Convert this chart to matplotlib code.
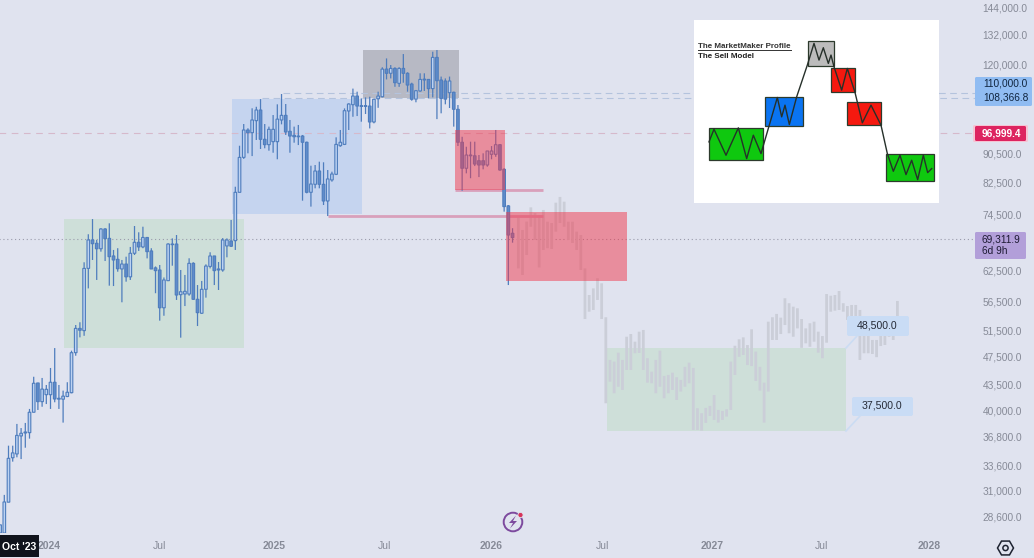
import numpy as np
import matplotlib
matplotlib.use("Agg")
import matplotlib.pyplot as plt
from matplotlib.patches import Rectangle, RegularPolygon, Circle, Polygon, FancyBboxPatch
from matplotlib.ticker import StrMethodFormatter, NullLocator

plt.rcParams['font.family'] = ['Liberation Sans', 'DejaVu Sans']

# weekly candles, one value per week
opens = [27100, 27100, 29890, 34420, 34840, 36890, 37240, 37280, 39780, 43660,
         41140, 42060, 42060, 43760, 41460, 41460, 41820, 42330, 48070, 51930,
         51560, 62840, 68780, 68060, 66880, 71230, 69130, 65370, 64680, 62720,
         63720, 61170, 65930, 68280, 67270, 69330, 66420, 62940, 62520, 55440,
         60430, 67900, 67900, 57800, 57920, 57920, 63860, 56960, 54490, 58800,
         63230, 65370, 62520, 62520, 67480, 68560, 68630, 80030, 89430, 97560,
         96720, 100490, 103960, 94720, 93110, 94000, 94000, 100710, 102210, 97160,
         95920, 95700, 95700, 93830, 80030, 82090, 85640, 82090, 77850, 83230,
         84740, 92800, 93200, 103630, 105720, 108680, 105180, 105180, 105270, 100070,
         107730, 108440, 118390, 116820, 118650, 113150, 118650, 116820, 112900, 107620,
         110440, 114360, 114570, 111270, 122880, 114360, 114000, 109840, 109980, 104190,
         93830, 86380, 89880, 89880, 88490, 88490, 87280, 90300, 90300, 93110,
         86100, 76650, 70260]
highs = [27810, 30590, 35770, 35770, 38330, 37830, 38450, 40200, 44530, 43660,
         44360, 43380, 45790, 48780, 43380, 42610, 43760, 48380, 52490, 52950,
         64070, 70040, 73500, 68780, 71400, 71400, 72520, 66630, 67000, 64540,
         65220, 67270, 71900, 70480, 71740, 69330, 67000, 63230, 63520, 61050,
         68060, 69130, 69870, 62520, 61540, 64890, 64070, 59600, 60380, 63650,
         66140, 65370, 64130, 69200, 69130, 73290, 81460, 92800, 99430, 98090,
         104520, 105030, 107620, 99430, 98610, 102310, 105850, 109380, 105960, 100710,
         98610, 99130, 96030, 94000, 87090, 87280, 88210, 88040, 85910, 85450,
         95310, 97560, 104490, 106190, 111270, 110190, 107860, 108220, 108440, 107560,
         110190, 119080, 122480, 119930, 119080, 119080, 124200, 117200, 113380, 110790,
         116820, 116820, 114570, 125120, 125800, 115610, 114940, 115610, 110190, 105610,
         95480, 92500, 94000, 94000, 90100, 90590, 91260, 92700, 97560, 93200,
         86380, 76860, 71400]
lows = [27100, 26930, 29890, 34000, 34470, 34280, 35540, 36580, 39780, 40070,
        40480, 40830, 40200, 41060, 40200, 38490, 41740, 42250, 47610, 50470,
        50720, 58970, 64540, 60570, 66270, 64330, 59480, 59410, 62180, 56420,
        60240, 60570, 65570, 66420, 67000, 64870, 62720, 58070, 53220, 54060,
        60430, 63380, 56840, 50420, 55750, 57610, 56840, 52320, 54370, 57260,
        62840, 59600, 58670, 62180, 65090, 67270, 66630, 80030, 89000, 90590,
        89800, 94510, 91840, 92050, 91350, 90760, 88890, 99330, 96030, 90760,
        93700, 93000, 77930, 79770, 76470, 81050, 81050, 76860, 74220, 82780,
        84540, 92500, 93000, 97560, 101750, 101980, 100170, 102640, 98050, 99650,
        104690, 108220, 114570, 114940, 111920, 111900, 113380, 110190, 107080, 106540,
        110190, 110440, 107860, 108220, 100990, 102870, 105850, 104620, 98610, 92730,
        80420, 85000, 83690, 86990, 84000, 86100, 86820, 88890, 89600, 85720,
        75260, 59600, 68190]
closes = [27810, 29910, 34360, 34960, 36960, 37210, 37360, 39780, 43620, 41140,
          42820, 42790, 43760, 41490, 41590, 41870, 42390, 48070, 51930, 51620,
          62840, 68780, 67970, 66880, 71230, 69070, 65220, 64540, 62770, 63720,
          61170, 65930, 68280, 67270, 69330, 66270, 62720, 62390, 55440, 60570,
          67900, 67760, 57740, 58350, 58430, 63860, 56960, 54590, 58800, 63310,
          65370, 62390, 62720, 68780, 68780, 67420, 80030, 89430, 97560, 96720,
          100710, 103960, 94720, 93110, 97780, 97780, 100990, 102210, 96940, 95700,
          95480, 95480, 93830, 80030, 82170, 85640, 82090, 77850, 83500, 84820,
          93200, 93830, 103730, 105960, 108680, 105270, 105380, 105380, 100070, 107560,
          108680, 118390, 116820, 118650, 113380, 118650, 116820, 112540, 107560, 110540,
          114570, 114680, 111270, 122880, 114100, 107860, 107620, 114000, 104190, 93830,
          86380, 90100, 90100, 87550, 87280, 87280, 91260, 91260, 93110, 85910,
          76470, 69870, 69312]

# projected bars pattern (high/low only)
ghost_highs = [73900, 71000, 72920, 76290, 74940, 74460, 75660, 72890, 72590, 77430,
               78860, 77680, 72890, 72890, 70620, 69870, 62840, 57740, 58970, 60900,
               59930, 53800, 46970, 46720, 48070, 46970, 50570, 51010, 49780, 51390,
               51670, 47230, 45250, 46970, 48380, 44640, 44780, 45110, 44460, 44080,
               45950, 46570, 45790, 40290, 39660, 40330, 40590, 42020, 40070, 39940,
               40160, 46720, 49140, 50160, 50470, 49250, 51780, 48230, 45950, 43700,
               53050, 53800, 54370, 53730, 57150, 56250, 55640, 55360, 53500, 51930,
               52780, 53050, 51390, 50680, 57920, 57610, 57740, 58480, 56250, 55750,
               55940, 55940, 55060, 50850, 50850, 50050, 50050, 51670, 51670, 53340,
               53340, 56660]
ghost_lows = [62840, 61540, 65570, 71730, 68780, 63030, 66630, 67000, 66840, 70620,
              72590, 71730, 68780, 68120, 66630, 62520, 53500, 54760, 55060, 56840,
              53500, 40930, 43840, 42250, 43140, 42700, 45500, 45500, 47980, 48030,
              45500, 43700, 43620, 42250, 43140, 41590, 42250, 42700, 41360, 42480,
              43140, 43620, 37600, 37600, 37520, 38450, 39310, 38820, 38490, 38820,
              39240, 40070, 44780, 47450, 47720, 46220, 46070, 43940, 42610, 38490,
              42480, 50050, 50050, 51010, 52490, 51130, 50570, 51930, 48820, 49520,
              48980, 49780, 48070, 47230, 49620, 54760, 54940, 55060, 54760, 53340,
              53340, 53050, 46970, 47980, 47980, 47870, 47390, 49100, 49260, 50570,
              50050, 52170]

y_ticks = [144000, 132000, 120000, 90500, 82500, 74500, 62500, 56500, 51500,
           47500, 43500, 40000, 36800, 33600, 31000, 28600]
x_tick_weeks = [11.64, 37.83, 65.2, 91.4, 116.9, 143.5, 169.5, 195.5, 221.2]
x_tick_labels = ['2024', 'Jul', '2025', 'Jul', '2026', 'Jul', '2027', 'Jul', '2028']

# name: week start, week end, price low, price high
green_zone_1 = (15.21, 58.07, 48750, 73450)
blue_zone = (55.2, 86.2, 74700, 107620)
grey_zone = (86.5, 109.3, 107860, 125800)
red_zone_1 = (108.3, 120.2, 80620, 97560)
red_zone_2 = (120.5, 149.2, 60430, 75160)
green_zone_2 = (144.4, 201.4, 37520, 48820)

# the sell model sketch in the white box
model_boxes = [(57, 218, 338, 433, '#0fc80f'), (225, 338, 245, 331, '#0a74f2'),
               (354, 432, 79, 152, '#bcbcbc'), (424, 495, 160, 231, '#f5190f'),
               (472, 573, 262, 329, '#f5190f'), (587, 731, 416, 497, '#0fc80f')]
model_x = [57, 72, 108, 145, 170, 190, 213, 262, 275, 285, 298, 320, 352, 372, 387, 400, 415,
           423, 432, 455, 472, 495, 517, 543, 573, 592, 610, 630, 648, 665, 683, 700, 713, 725]
model_y = [380, 342, 420, 338, 430, 360, 415, 247, 305, 270, 328, 245, 150, 85, 135, 98, 145,
           120, 155, 225, 160, 232, 323, 270, 330, 415, 468, 420, 478, 435, 493, 420, 472, 460]

BG = '#e0e3ef'
UP_FILL = '#bcd2f2'
DOWN_FILL = '#5f8ccb'
EDGE = '#4f7dbd'
TICK_COL = '#868a97'

W, H = 1034, 558
fig = plt.figure(figsize=(W / 100, H / 100), dpi=100, facecolor=BG)
ax = fig.add_axes([0, (H - 533) / H, 975 / W, 533 / H], facecolor=BG)
ax.set_yscale('log')
ax.set_xlim(-0.024, 232.1)
ax.set_ylim(27100, 147470)


def zone(coords, color, alpha=1.0, z=1):
    x0, x1, p0, p1 = coords
    ax.add_patch(Rectangle((x0, p0), x1 - x0, p1 - p0, facecolor=color, edgecolor='none', alpha=alpha, zorder=z))


zone(green_zone_1, '#cedfd9')
zone(green_zone_2, '#cedfd9')
zone(blue_zone, '#c5d4ef')
zone(grey_zone, '#b7b9c4')

# price lines
ax.hlines(68960, -1, 233, colors='#9a9bab', linewidth=0.8, linestyles=(0, (1, 2.5)), zorder=2)
ax.hlines(96600, -1, 233, colors='#d6b9cb', linewidth=0.8, linestyles=(0, (6, 5)), zorder=2)
ax.hlines(109700, 67.4, 233, colors='#b4c3dd', linewidth=0.8, linestyles=(0, (6, 4)), zorder=2)
ax.hlines(107900, 62.4, 233, colors='#b4c3dd', linewidth=0.8, linestyles=(0, (6, 4)), zorder=2)

# projection
ghost_x = 123.38 + 0.9917 * np.arange(len(ghost_highs))
ghost_highs = np.array(ghost_highs)
ghost_lows = np.array(ghost_lows)
ax.bar(ghost_x, ghost_highs - ghost_lows, bottom=ghost_lows, width=0.66, color='#cbced8', zorder=3, snap=False)

# candles
weeks = np.arange(len(opens))
opens = np.array(opens)
closes = np.array(closes)
ax.vlines(weeks, lows, highs, colors=EDGE, linewidth=0.9, zorder=4, snap=False)
top = np.maximum(opens, closes)
bot = np.minimum(opens, closes)
fills = [UP_FILL if c >= o else DOWN_FILL for o, c in zip(opens, closes)]
ax.bar(weeks, top - bot, bottom=bot, width=0.62, color=fills, edgecolor=EDGE, linewidth=0.8, zorder=5, snap=False)

zone(red_zone_1, '#f0394d', alpha=0.5, z=6)
zone(red_zone_2, '#f0394d', alpha=0.5, z=6)
ax.hlines(80620, 108.3, 129.3, colors='#d9a0bb', linewidth=2, zorder=3)
ax.hlines(74340, 78.1, 129.3, colors='#d9a0bb', linewidth=2, zorder=3)

ax.yaxis.tick_right()
ax.set_yticks(y_ticks)
ax.yaxis.set_major_formatter(StrMethodFormatter('{x:,.1f}'))
ax.yaxis.set_minor_locator(NullLocator())
ax.set_xticks(x_tick_weeks, x_tick_labels)
ax.tick_params(axis='y', length=0, pad=5.5, labelsize=7.3, labelcolor=TICK_COL)
ax.tick_params(axis='x', length=0, pad=6, labelsize=7.5, labelcolor=TICK_COL)
for lab in ax.get_xticklabels():
    if lab.get_text() != 'Jul':
        lab.set_fontweight('bold')
for s in ax.spines.values():
    s.set_visible(False)

# white box with the sell model
inset = fig.add_axes([694 / W, (H - 203) / H, 245 / W, 183 / H], facecolor='white', zorder=8)
inset.set_xlim(12, 747)
inset.set_ylim(563, 15)
inset.axis('off')
inset.add_patch(Rectangle((12, 15), 735, 548, facecolor='white', edgecolor='none'))
for x0, x1, y0, y1, col in model_boxes:
    inset.add_patch(Rectangle((x0, y0), x1 - x0, y1 - y0, facecolor=col, edgecolor='#2c3a2c', linewidth=0.9))
inset.plot(model_x, model_y, color='#26302a', linewidth=1.0, solid_joinstyle='round')
inset.text(25, 93, 'The MarketMaker Profile', fontsize=5.8, fontweight='bold', color='#333333', va='center')
inset.plot([25, 302], [106, 106], color='#333333', linewidth=0.7)
inset.text(25, 123, 'The Sell Model', fontsize=5.8, fontweight='bold', color='#222222', va='center')

# price labels, callouts and icons in screen pixels
ui = fig.add_axes([0, 0, 1, 1], zorder=9)
ui.set_xlim(0, W)
ui.set_ylim(H, 0)
ui.axis('off')


def tag(x0, y0, x1, y1, color, round_px=1.5):
    ui.add_patch(FancyBboxPatch((x0 + round_px, y0 + round_px), x1 - x0 - 2 * round_px, y1 - y0 - 2 * round_px,
                                boxstyle='round,pad=%s,rounding_size=%s' % (round_px, round_px),
                                facecolor=color, edgecolor='none'))


tag(975, 77, 1032, 106, '#90bcf2')
ui.text(983, 84, '110,000.0', fontsize=7.3, color='#10253f', va='center')
ui.text(983, 98, '108,366.8', fontsize=7.3, color='#10253f', va='center')
tag(973, 125, 1028, 142, '#f6c3d3')
tag(975, 126, 1026, 141, '#dd2460')
ui.text(982, 133, '96,999.4', fontsize=7.3, color='white', fontweight='bold', va='center')
tag(975, 232, 1026, 259, '#b29fd9')
ui.text(982, 239, '69,311.9', fontsize=7.3, color='#1d1a33', va='center')
ui.text(982, 251, '6d 9h', fontsize=7.3, color='#1d1a33', va='center')

ui.plot([846, 857], [348, 336], color='#cbdcf3', linewidth=1.2)
ui.plot([846, 860], [431, 416], color='#cbdcf3', linewidth=1.2)
tag(847, 316, 909, 336, '#c9dcf5', 2)
ui.text(877, 325.5, '48,500.0', fontsize=7.6, color='#252a36', ha='center', va='center')
tag(852, 397, 913, 416, '#c9dcf5', 2)
ui.text(882, 406, '37,500.0', fontsize=7.6, color='#252a36', ha='center', va='center')

ui.add_patch(Rectangle((0, 535), 39, 22, facecolor='#10131c', edgecolor='none'))
ui.text(2, 547, "Oct '23", fontsize=7.6, color='white', fontweight='bold', va='center')

ui.add_patch(Circle((513, 522), 9.3, facecolor='none', edgecolor='#7d4a9e', linewidth=1.4))
ui.add_patch(Polygon([(516, 515.5), (509, 523), (513, 523), (510, 528.5), (517, 521), (513, 521)],
                     facecolor='#7d4a9e', edgecolor='none'))
ui.add_patch(Circle((520.5, 515), 2.6, facecolor='#d6335a', edgecolor=BG, linewidth=0.6))

ui.add_patch(RegularPolygon((1005.5, 548), 6, radius=8, orientation=np.pi / 2, facecolor='none',
                            edgecolor='#1d2230', linewidth=1.1))
ui.add_patch(Circle((1005.5, 548), 2.6, facecolor='none', edgecolor='#1d2230', linewidth=1.1))

fig.savefig('out.png', dpi=100, facecolor=BG)
